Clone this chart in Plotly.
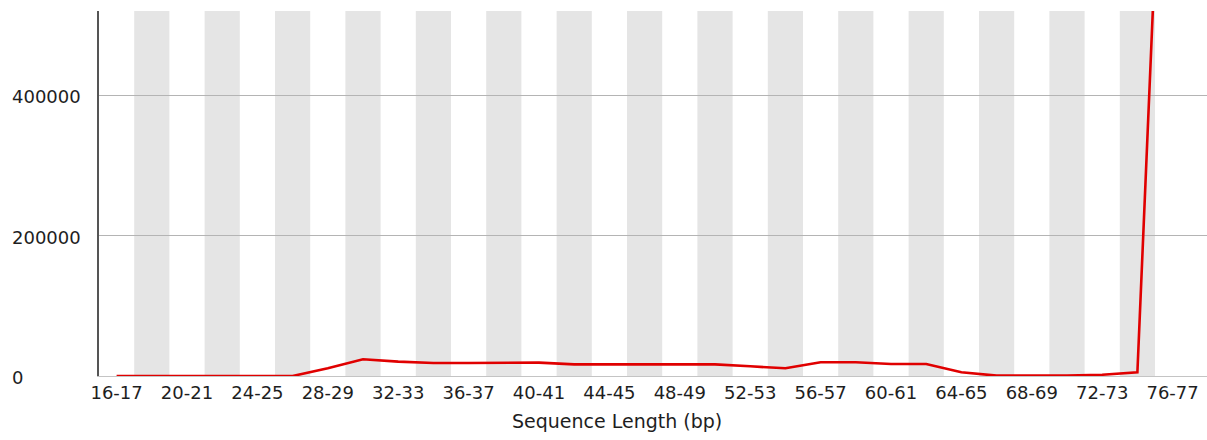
import plotly.graph_objects as go

# Read-length bins (bp) and number of reads in each bin
length_bins = [f"{a}-{a + 1}" for a in range(16, 78, 2)]
read_counts = [
    0, 0, 0, 0, 0, 0,            # 16-17 .. 26-27
    11000, 23800, 20400, 18500,  # 28-29 .. 34-35
    18500, 18500, 19000, 16600,  # 36-37 .. 42-43
    16600, 16600, 16600, 16600,  # 44-45 .. 50-51
    13800, 11000, 19500, 19500,  # 52-53 .. 58-59
    17000, 17000, 5300, 500,     # 60-61 .. 66-67
    500, 500, 1800, 5300,        # 68-69 .. 74-75
    1180000,                     # 76-77
]
y_ticks = [0, 200000, 400000]
x_title = "Sequence Length (bp)"

W, H = 1207, 440
M_L, M_R, M_T, M_B = 99, 0, 11, 64
plot_w = W - M_L - M_R
plot_h = H - M_T - M_B
bin_px = 35.2                      # width of one bin on screen
y_per_px = 200000 / 140.5           # value per pixel on the y axis

FONT = "DejaVu Sans"
TXT = "#1e1e1e"

fig = go.Figure()
fig.add_trace(go.Scatter(
    x=length_bins, y=read_counts, mode="lines",
    line=dict(color="#e00000", width=2.6),
    hoverinfo="x+y", showlegend=False,
))

# alternating grey bands behind every second bin
shapes = []
for i in range(1, len(length_bins), 2):
    shapes.append(dict(
        type="rect", xref="x", yref="paper", layer="below",
        x0=i - 0.5, x1=i + 0.5, y0=0, y1=1,
        fillcolor="#e5e5e5", line=dict(width=0),
    ))

# y tick labels, left aligned at the page edge
annotations = []
for v in y_ticks:
    annotations.append(dict(
        x=(10 - M_L) / plot_w, xref="paper", y=v, yref="y",
        text=str(v), showarrow=False, xanchor="left", yanchor="middle",
        yshift=-1.5, font=dict(family=FONT, size=18, color=TXT),
    ))

# x axis title, centred on the page width
annotations.append(dict(
    x=(617 - M_L) / plot_w, xref="paper",
    y=(H - M_B - 421) / plot_h, yref="paper",
    text=x_title, showarrow=False, xanchor="center", yanchor="middle",
    font=dict(family=FONT, size=19, color=TXT),
))

fig.update_layout(
    width=W, height=H,
    margin=dict(l=M_L, r=M_R, t=M_T, b=M_B, pad=0),
    paper_bgcolor="white", plot_bgcolor="white",
    shapes=shapes, annotations=annotations,
    font=dict(family=FONT, size=18, color=TXT),
    xaxis=dict(
        type="category",
        range=[-0.5, -0.5 + plot_w / bin_px],
        tickmode="array", tickvals=length_bins[::2],
        ticks="", showgrid=False, zeroline=False,
        showline=True, linecolor="#c4c4c4", linewidth=1,
        tickfont=dict(family=FONT, size=18, color=TXT),
        fixedrange=True,
    ),
    yaxis=dict(
        range=[0, plot_h * y_per_px],
        tickmode="array", tickvals=y_ticks[1:],
        showticklabels=False, ticks="",
        showgrid=True, gridcolor="#b4b4b4", gridwidth=1,
        zeroline=False,
        showline=True, linecolor="#555555", linewidth=2,
        fixedrange=True,
    ),
)

fig.write_html("out.html", config={"displayModeBar": False})
